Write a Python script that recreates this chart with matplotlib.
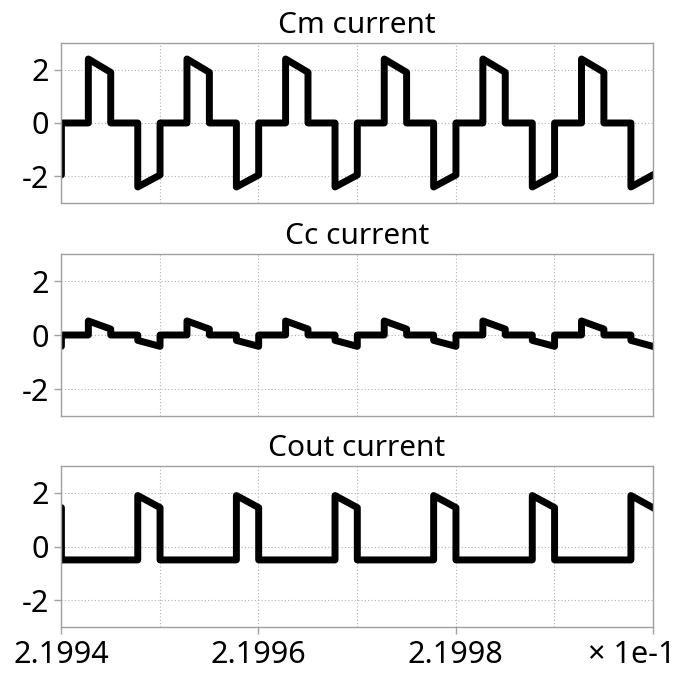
import matplotlib
matplotlib.use("Agg")
import matplotlib.pyplot as plt
from matplotlib.ticker import FixedLocator, FuncFormatter

# time axis: offset in microseconds from t0 (seconds)
t0 = 0.21994
t_us = [0.00, 0.04,
        0.04, 2.77, 2.77, 5.04, 5.04, 7.78, 7.78, 10.04,
        10.04, 12.77, 12.77, 15.04, 15.04, 17.78, 17.78, 20.04,
        20.04, 22.77, 22.77, 25.04, 25.04, 27.78, 27.78, 30.04,
        30.04, 32.77, 32.77, 35.04, 35.04, 37.78, 37.78, 40.04,
        40.04, 42.77, 42.77, 45.04, 45.04, 47.78, 47.78, 50.04,
        50.04, 52.77, 52.77, 55.04, 55.04, 57.78, 57.78, 60.00]

cm_current = [-1.95, -1.95,
              0, 0, 2.4, 1.9, 0, 0, -2.4, -1.95,
              0, 0, 2.4, 1.9, 0, 0, -2.4, -1.95,
              0, 0, 2.4, 1.9, 0, 0, -2.4, -1.95,
              0, 0, 2.4, 1.9, 0, 0, -2.4, -1.95,
              0, 0, 2.4, 1.9, 0, 0, -2.4, -1.95,
              0, 0, 2.4, 1.9, 0, 0, -2.4, -1.95]

cc_current = [-0.42, -0.42,
              0, 0, 0.52, 0.22, 0, 0, -0.2, -0.42,
              0, 0, 0.52, 0.22, 0, 0, -0.2, -0.42,
              0, 0, 0.52, 0.22, 0, 0, -0.2, -0.42,
              0, 0, 0.52, 0.22, 0, 0, -0.2, -0.42,
              0, 0, 0.52, 0.22, 0, 0, -0.2, -0.42,
              0, 0, 0.52, 0.22, 0, 0, -0.2, -0.42]

cout_current = [1.45, 1.45,
                -0.5, -0.5, -0.5, -0.5, -0.5, -0.5, 1.9, 1.45,
                -0.5, -0.5, -0.5, -0.5, -0.5, -0.5, 1.9, 1.45,
                -0.5, -0.5, -0.5, -0.5, -0.5, -0.5, 1.9, 1.45,
                -0.5, -0.5, -0.5, -0.5, -0.5, -0.5, 1.9, 1.45,
                -0.5, -0.5, -0.5, -0.5, -0.5, -0.5, 1.9, 1.45,
                -0.5, -0.5, -0.5, -0.5, -0.5, -0.5, 1.9, 1.45]

titles = ["Cm current", "Cc current", "Cout current"]
x_major = [0.21994, 0.21996, 0.21998, 0.22000]
x_minor = [0.21995, 0.21997, 0.21999]
y_ticks = [-2, 0, 2]

plt.rcParams['font.family'] = ['Noto Sans', 'DejaVu Sans']
plt.rcParams['axes.unicode_minus'] = False

t = [t0 + v * 1e-6 for v in t_us]
series = [cm_current, cc_current, cout_current]

fig = plt.figure(figsize=(6.81, 6.75), dpi=100)
# axes boxes [left, bottom, width, height] in figure fractions
boxes = [[0.0896, 0.6993, 0.869, 0.237],
         [0.0896, 0.3837, 0.869, 0.240],
         [0.0896, 0.0711, 0.869, 0.2385]]

axes = []
for i, (box, vals, title) in enumerate(zip(boxes, series, titles)):
    ax = fig.add_axes(box)
    ax.plot(t, vals, color='black', linewidth=5.0, solid_joinstyle='round')
    ax.set_xlim(0.21994, 0.22000)
    ax.set_ylim(-3, 3)
    ax.set_title(title, fontsize=21.5, pad=7)
    ax.yaxis.set_major_locator(FixedLocator(y_ticks))
    ax.xaxis.set_major_locator(FixedLocator(x_major))
    ax.xaxis.set_minor_locator(FixedLocator(x_minor))
    ax.grid(True, which='both', color='#b0b0b0', linestyle=(0, (1, 2)), linewidth=0.8)
    for s in ax.spines.values():
        s.set_color('#a0a0a0')
        s.set_linewidth(1.0)
    ax.tick_params(axis='both', which='major', length=5, width=1.0,
                   color='#a0a0a0', labelsize=22, pad=3.5)
    ax.tick_params(axis='x', which='minor', length=0)
    ax.tick_params(axis='x', which='major', pad=4)
    if i < 2:
        ax.tick_params(axis='x', which='both', labelbottom=False, length=0)
    axes.append(ax)

labels = {0.21994: '2.1994', 0.21996: '2.1996', 0.21998: '2.1998'}
axes[2].xaxis.set_major_formatter(
    FuncFormatter(lambda v, p: labels.get(round(v, 5), '')))
axes[2].annotate('\u00d7 1e-1', xy=(1, 0), xycoords='axes fraction',
                 xytext=(16, -9), textcoords='offset points',
                 ha='right', va='top', fontsize=22)

fig.savefig('out.png', dpi=100)
